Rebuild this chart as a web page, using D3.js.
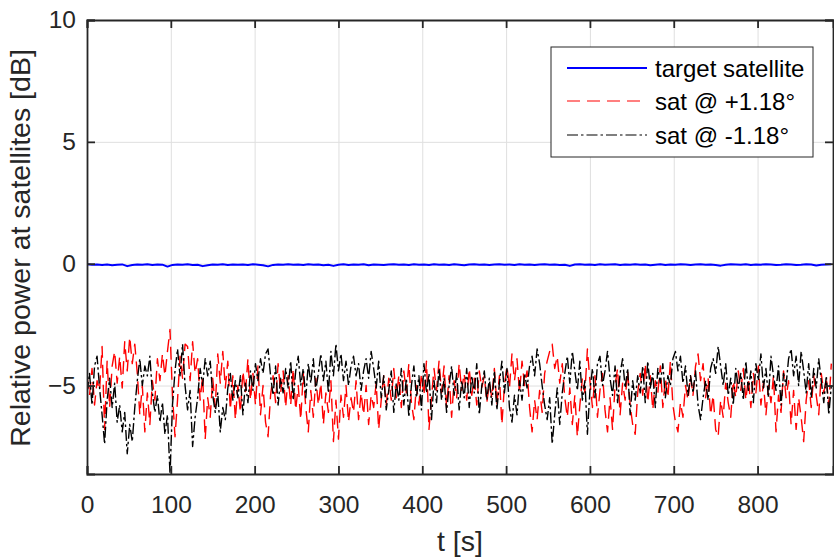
<!DOCTYPE html>
<html>
<head>
<meta charset="utf-8">
<script src="https://cdn.jsdelivr.net/npm/d3@7"></script>
<style>
  html, body { margin: 0; padding: 0; background: #fff; }
  svg { display: block; font-family: "Liberation Sans", Arial, Helvetica, sans-serif; }
</style>
</head>
<body>
<svg id="chart" width="834" height="558"></svg>
<script>
// ---------- data ----------
const seriesNames = ["target satellite", "sat @ +1.18\u00b0", "sat @ -1.18\u00b0"];
const xTicks = [0, 100, 200, 300, 400, 500, 600, 700, 800];
const yTicks = [-5, 0, 5, 10];
const xLabel = "t [s]";
const yLabel = "Relative power at satellites [dB]";

// sampling times (s)
const tFast = d3.range(0, 889, 3);   // red / black samples
const tBlue = d3.range(0, 889, 6);   // target satellite samples

const targetSat = [
  -0.02,-0.04,-0.03,-0.05,-0.03,-0.06,-0.04,-0.03,-0.10,-0.05,
  -0.03,-0.04,-0.02,-0.05,-0.03,-0.04,-0.12,-0.05,-0.03,-0.04,
  -0.02,-0.05,-0.04,-0.10,-0.06,-0.03,-0.04,-0.02,-0.05,-0.03,
  -0.04,-0.03,-0.05,-0.02,-0.04,-0.06,-0.11,-0.05,-0.03,-0.04,
  -0.02,-0.04,-0.03,-0.05,-0.02,-0.04,-0.03,-0.06,-0.04,-0.09,
  -0.04,-0.02,-0.05,-0.03,-0.04,-0.02,-0.06,-0.03,-0.04,-0.05,
  -0.03,-0.02,-0.04,-0.03,-0.05,-0.02,-0.04,-0.03,-0.05,-0.02,
  -0.04,-0.03,-0.05,-0.02,-0.04,-0.06,-0.03,-0.02,-0.04,-0.03,
  -0.05,-0.03,-0.02,-0.04,-0.03,-0.05,-0.02,-0.04,-0.03,-0.05,
  -0.03,-0.02,-0.04,-0.03,-0.05,-0.04,-0.09,-0.03,-0.02,-0.04,
  -0.03,-0.05,-0.02,-0.04,-0.03,-0.02,-0.05,-0.03,-0.04,-0.02,
  -0.04,-0.03,-0.06,-0.04,-0.02,-0.05,-0.03,-0.04,-0.02,-0.03,
  -0.05,-0.03,-0.02,-0.04,-0.03,-0.05,-0.08,-0.04,-0.02,-0.03,
  -0.04,-0.02,-0.05,-0.03,-0.04,-0.02,-0.03,-0.05,-0.04,-0.02,
  -0.03,-0.05,-0.04,-0.02,-0.03,-0.07,-0.04,-0.03,-0.02
];

const satPlus = [
  -4.6,-5.4,-4.3,-5.8,-4.8,-5.2,-3.4,-6.8,-4.0,-5.9,-4.2,-3.6,-4.9,-3.8,-5.1,-3.2,-4.4,-3.0,-4.1,-3.3,
  -4.5,-6.2,-5.0,-6.9,-5.3,-6.6,-4.8,-5.6,-3.9,-4.8,-3.7,-4.6,-3.6,-2.7,-5.4,-7.1,-5.6,-3.8,-4.7,-3.3,
  -3.4,-4.8,-3.2,-4.5,-3.9,-5.6,-4.6,-7.2,-5.5,-6.3,-4.7,-5.9,-3.7,-4.9,-3.6,-5.1,-4.0,-6.0,-4.6,-6.4,
  -5.0,-6.1,-4.4,-5.3,-3.9,-5.6,-4.5,-5.8,-4.2,-6.2,-5.0,-6.5,-7.1,-5.4,-4.6,-5.7,-4.1,-5.3,-4.4,-5.9,
  -4.6,-5.8,-4.3,-6.0,-5.0,-6.4,-4.5,-5.9,-6.9,-5.2,-6.3,-4.7,-5.8,-4.9,-6.6,-5.3,-6.1,-4.8,-7.3,-5.6,
  -7.2,-5.4,-6.3,-5.0,-6.5,-5.5,-6.1,-4.8,-6.4,-5.3,-6.2,-5.0,-6.6,-5.4,-5.9,-4.9,-6.8,-5.6,-4.6,-5.8,
  -4.7,-5.6,-4.3,-5.5,-4.6,-5.9,-4.4,-5.3,-4.1,-5.7,-6.4,-5.0,-5.8,-4.5,-5.4,-4.0,-6.8,-5.5,-4.3,-5.2,
  -4.0,-5.3,-4.2,-5.9,-4.6,-6.3,-4.8,-5.5,-4.1,-5.2,-4.5,-5.6,-4.3,-5.4,-4.7,-5.8,-4.4,-5.1,-4.6,-5.7,
  -4.9,-5.5,-4.3,-5.8,-4.6,-6.6,-5.0,-4.2,-5.1,-3.7,-4.8,-3.9,-5.3,-4.0,-5.0,-4.4,-5.9,-6.9,-5.6,-6.4,
  -5.2,-6.1,-4.5,-4.0,-3.6,-3.3,-4.3,-3.8,-4.9,-4.1,-5.5,-6.3,-5.1,-6.6,-5.4,-7.1,-5.8,-4.7,-5.3,-3.5,
  -4.8,-5.9,-4.6,-6.3,-5.2,-4.5,-6.0,-6.9,-5.5,-6.8,-5.0,-4.3,-6.2,-4.9,-5.6,-4.4,-5.8,-6.6,-7.0,-5.3,
  -4.5,-5.4,-4.1,-5.7,-4.6,-6.0,-4.8,-5.3,-4.2,-5.9,-4.7,-5.5,-4.0,-5.8,-6.5,-6.9,-5.7,-6.3,-5.0,-5.6,
  -4.6,-5.4,-4.2,-3.7,-4.8,-4.1,-5.5,-4.7,-6.2,-5.4,-6.8,-7.1,-5.6,-6.3,-4.9,-5.7,-6.3,-4.8,-5.5,-4.4,
  -5.2,-4.3,-5.6,-4.7,-5.9,-4.5,-5.3,-4.2,-5.8,-4.9,-6.2,-5.0,-5.7,-4.6,-6.9,-5.4,-6.1,-4.4,-5.5,-4.8,
  -6.6,-5.2,-6.8,-5.5,-6.3,-7.3,-5.6,-4.8,-5.9,-4.6,-5.4,-6.2,-4.5,-5.3,-4.7,-5.8,-4.1
];

const satMinus = [
  -5.3,-4.5,-5.8,-4.2,-3.8,-5.1,-6.2,-7.4,-5.6,-4.7,-5.9,-4.9,-6.5,-5.8,-6.9,-6.1,-7.8,-6.6,-7.3,-5.9,
  -4.8,-3.9,-5.0,-4.2,-4.6,-3.8,-5.3,-6.1,-5.4,-6.5,-5.7,-7.0,-6.2,-8.6,-5.8,-4.4,-3.5,-4.6,-3.3,-5.0,
  -6.0,-5.2,-7.5,-6.3,-5.5,-4.3,-5.0,-3.9,-4.6,-4.0,-5.4,-6.1,-5.3,-6.9,-5.9,-6.4,-5.1,-4.5,-5.6,-4.8,
  -5.5,-4.6,-6.2,-4.9,-5.7,-4.4,-5.2,-4.1,-4.8,-3.9,-4.5,-3.7,-3.5,-4.6,-5.4,-4.2,-5.8,-4.7,-5.3,-4.3,
  -5.1,-4.0,-5.6,-4.4,-3.8,-5.0,-4.3,-5.5,-4.1,-4.9,-3.9,-5.2,-4.5,-3.7,-4.8,-4.0,-5.3,-3.6,-4.6,-3.3,
  -4.4,-3.7,-4.8,-4.0,-5.0,-4.2,-3.8,-4.6,-4.1,-5.2,-4.4,-3.9,-4.7,-3.6,-4.3,-5.1,-4.0,-5.5,-4.6,-6.0,
  -5.2,-4.4,-6.1,-4.9,-5.6,-4.3,-5.8,-4.7,-6.3,-5.0,-4.2,-5.5,-4.6,-6.0,-4.1,-5.3,-4.5,-6.4,-4.8,-5.7,
  -4.3,-5.6,-4.7,-6.1,-5.0,-4.2,-5.4,-4.5,-6.0,-4.8,-5.5,-4.3,-5.9,-4.6,-5.3,-4.1,-6.2,-5.0,-4.4,-5.6,
  -4.7,-5.8,-4.4,-6.0,-4.9,-4.0,-5.3,-4.3,-5.9,-6.5,-5.4,-6.2,-4.8,-5.6,-4.5,-5.1,-4.2,-3.8,-4.6,-3.5,
  -4.1,-5.0,-5.8,-6.4,-5.5,-7.4,-6.2,-5.1,-6.6,-5.3,-4.5,-3.8,-4.9,-3.6,-4.4,-5.2,-4.0,-5.6,-4.8,-7.0,
  -5.2,-4.3,-5.5,-4.1,-3.8,-5.0,-4.4,-3.6,-4.7,-5.4,-4.2,-5.7,-4.5,-3.9,-5.1,-4.3,-6.2,-4.8,-5.6,-4.6,
  -5.3,-4.2,-5.7,-4.0,-5.1,-4.5,-5.9,-4.3,-4.9,-4.1,-5.5,-4.6,-5.0,-3.9,-3.6,-4.4,-3.8,-4.9,-4.2,-5.4,
  -4.6,-5.3,-4.4,-5.8,-6.4,-5.5,-4.8,-5.6,-4.3,-3.9,-4.5,-3.4,-4.2,-5.0,-4.1,-5.4,-4.7,-5.8,-4.3,-5.1,
  -4.5,-5.6,-4.0,-5.2,-4.4,-5.7,-4.1,-4.8,-3.7,-5.1,-4.3,-5.5,-3.8,-4.6,-5.2,-4.2,-5.8,-4.5,-5.0,-3.9,
  -3.5,-4.6,-3.8,-5.0,-3.6,-4.4,-5.3,-4.1,-5.5,-4.3,-5.1,-3.9,-4.8,-5.7,-4.6,-6.2,-5.0
];

// ---------- styles / layout ----------
const styles = [
  { color: "#0000ff", width: 2,   dash: null },
  { color: "#ff0000", width: 1.4, dash: "13,7" },
  { color: "#000000", width: 1.4, dash: "11,3,2.5,3" }
];
const legendDash = [null, "13,7", "11,3,2.5,3"];
const axisColor = "#262626";
const gridColor = "#dfdfdf";
const margin = { left: 87, right: 833, top: 20, bottom: 474 };

const svg = d3.select("#chart");
const x = d3.scaleLinear().domain([0, 890]).range([margin.left, margin.right]);
const y = d3.scaleLinear().domain([-8.63, 10]).range([margin.bottom, margin.top]);
const W = margin.right - margin.left, H = margin.bottom - margin.top;

svg.append("defs").append("clipPath").attr("id", "clip")
  .append("rect").attr("x", margin.left).attr("y", margin.top).attr("width", W).attr("height", H);

// grid
const grid = svg.append("g").attr("class", "grid");
grid.append("g").attr("transform", `translate(0,${margin.bottom})`)
  .call(d3.axisBottom(x).tickValues(xTicks.filter(v => v > 0)).tickSize(-H).tickFormat(""))
  .call(g => g.select(".domain").remove())
  .call(g => g.selectAll("line").attr("stroke", gridColor).attr("stroke-width", 1));
grid.append("g").attr("transform", `translate(${margin.left},0)`)
  .call(d3.axisLeft(y).tickValues(yTicks.filter(v => v < 10)).tickSize(-W).tickFormat(""))
  .call(g => g.select(".domain").remove())
  .call(g => g.selectAll("line").attr("stroke", gridColor).attr("stroke-width", 1));

// data lines
const plot = svg.append("g").attr("clip-path", "url(#clip)");
const series = [
  { times: tBlue, values: targetSat },
  { times: tFast, values: satPlus },
  { times: tFast, values: satMinus }
];
const line = d3.line().x(d => x(d[0])).y(d => y(d[1]));
series.forEach((s, i) => {
  const pts = s.values.map((v, j) => [s.times[j], v]);
  plot.append("path").datum(pts)
    .attr("d", line)
    .attr("fill", "none")
    .attr("stroke", styles[i].color)
    .attr("stroke-width", styles[i].width)
    .attr("stroke-dasharray", styles[i].dash)
    .attr("stroke-linejoin", "round");
});

// axes
const fs = 24.5;
const axB = svg.append("g").attr("transform", `translate(0,${margin.bottom})`)
  .call(d3.axisBottom(x).tickValues(xTicks).tickSize(-8).tickPadding(22).tickFormat(d3.format("d")));
const axT = svg.append("g").attr("transform", `translate(0,${margin.top})`)
  .call(d3.axisTop(x).tickValues(xTicks).tickSize(-8).tickFormat(""));
const axL = svg.append("g").attr("transform", `translate(${margin.left},0)`)
  .call(d3.axisLeft(y).tickValues(yTicks).tickSize(-8).tickPadding(11).tickFormat(d3.format("d")));
const axR = svg.append("g").attr("transform", `translate(${margin.right},0)`)
  .call(d3.axisRight(y).tickValues(yTicks).tickSize(-8).tickFormat(""));
[axB, axT, axL, axR].forEach(g => {
  g.select(".domain").attr("stroke", axisColor).attr("stroke-width", 1.8);
  g.selectAll(".tick line").attr("stroke", axisColor).attr("stroke-width", 1.8);
  g.selectAll("text").attr("fill", axisColor).style("font-size", fs + "px")
    .style("font-family", "'Liberation Sans', Arial, sans-serif");
});

// axis labels
svg.append("text")
  .attr("x", (margin.left + margin.right) / 2).attr("y", 551)
  .attr("text-anchor", "middle").attr("fill", axisColor)
  .style("font-size", "28.5px").text(xLabel);
svg.append("text")
  .attr("transform", `translate(30,${(margin.top + margin.bottom) / 2 + 1}) rotate(-90)`)
  .attr("text-anchor", "middle").attr("fill", axisColor)
  .style("font-size", "28.5px").text(yLabel);

// legend
const leg = svg.append("g");
leg.append("rect").attr("x", 551).attr("y", 47).attr("width", 262).attr("height", 110)
  .attr("fill", "#fff").attr("stroke", axisColor).attr("stroke-width", 1);
const legLineY = [68, 101, 135];
seriesNames.forEach((name, i) => {
  leg.append("line")
    .attr("x1", 567).attr("x2", 647).attr("y1", legLineY[i]).attr("y2", legLineY[i])
    .attr("stroke", styles[i].color)
    .attr("stroke-width", i === 0 ? 2 : 1.2)
    .attr("stroke-dasharray", legendDash[i]);
  leg.append("text")
    .attr("x", 655).attr("y", legLineY[i] + 9)
    .attr("fill", "#000").style("font-size", "24px").text(name);
});
</script>
</body>
</html>
